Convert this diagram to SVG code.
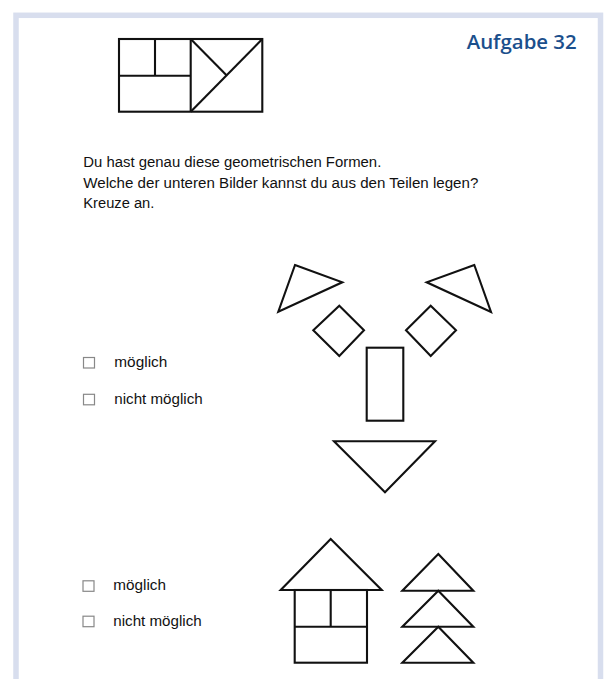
<svg xmlns="http://www.w3.org/2000/svg" width="606" height="679" viewBox="0 0 606 679">
  <style>
    .shape { fill: none; stroke: #111; stroke-width: 2.1; stroke-linejoin: miter; }
    .txt { font-family: "Liberation Sans", Arial, sans-serif; font-size: 14px; fill: #111; }
    .box { fill: #fff; stroke: #888; stroke-width: 1.2; }
    .title { font-family: "Open Sans", "Liberation Sans", sans-serif; font-weight: 600; font-size: 19px; fill: #1b4f8c; }
  </style>
  <rect width="606" height="679" fill="#fff"/>
  <rect id="frame" x="16" y="15.3" width="584.5" height="700" fill="none" stroke="#d8deee" stroke-width="5.5"/>

  <g id="title">
    <text class="title" x="466.7" y="49.3" textLength="110" lengthAdjust="spacingAndGlyphs">Aufgabe 32</text>
  </g>

  <g id="pieces" class="shape">
    <rect x="119" y="39" width="143.3" height="72.7"/>
    <line x1="190.7" y1="39" x2="190.7" y2="111.7"/>
    <line x1="119" y1="75.7" x2="190.7" y2="75.7"/>
    <line x1="155" y1="39" x2="155" y2="75.7"/>
    <line x1="190.7" y1="39" x2="226.5" y2="75.2"/>
    <line x1="262.3" y1="39" x2="190.7" y2="111.7"/>
  </g>

  <g id="instructions">
    <text class="txt" x="83.3" y="166.5" textLength="298" lengthAdjust="spacingAndGlyphs">Du hast genau diese geometrischen Formen.</text>
    <text class="txt" x="83.3" y="187.5" textLength="395" lengthAdjust="spacingAndGlyphs">Welche der unteren Bilder kannst du aus den Teilen legen?</text>
    <text class="txt" x="83.3" y="207.5" textLength="71" lengthAdjust="spacingAndGlyphs">Kreuze an.</text>
  </g>

  <g id="face" class="shape">
    <polygon points="295,265 342.3,282.3 278.3,311.7"/>
    <polygon points="474.3,265 426.7,282.3 491,312"/>
    <polygon points="339.3,305.7 364,330.3 339.3,356 313.3,330.3"/>
    <polygon points="430.7,305.7 456,330.3 430.7,356 406,330.3"/>
    <rect x="366.7" y="347.7" width="36.6" height="73"/>
    <polygon points="334,441.3 435,441.3 385,492.3"/>
  </g>

  <g id="options1">
    <rect class="box" x="83.5" y="357.5" width="11" height="10.5"/>
    <text class="txt" x="114.3" y="366.7" textLength="53" lengthAdjust="spacingAndGlyphs">möglich</text>
    <rect class="box" x="83.5" y="394.3" width="11" height="10.5"/>
    <text class="txt" x="114.3" y="404" textLength="88.4" lengthAdjust="spacingAndGlyphs">nicht möglich</text>
  </g>

  <g id="house" class="shape">
    <polygon points="330.7,539 381.7,590 280.7,590"/>
    <rect x="294.7" y="590" width="72.3" height="72.7"/>
    <line x1="294.7" y1="626.7" x2="367" y2="626.7"/>
    <line x1="330.7" y1="590" x2="330.7" y2="626.7"/>
  </g>

  <g id="tree" class="shape">
    <polygon points="438.3,554 473.3,590.7 402.3,590.7"/>
    <polygon points="438.3,590.7 473.3,626.7 402.3,626.7"/>
    <polygon points="438.3,626.7 473.3,662.7 402.3,662.7"/>
  </g>

  <g id="options2">
    <rect class="box" x="83" y="580.8" width="11" height="10.5"/>
    <text class="txt" x="113.3" y="590" textLength="52.7" lengthAdjust="spacingAndGlyphs">möglich</text>
    <rect class="box" x="83" y="616.2" width="11" height="10.5"/>
    <text class="txt" x="113.3" y="626" textLength="88.4" lengthAdjust="spacingAndGlyphs">nicht möglich</text>
  </g>
</svg>
